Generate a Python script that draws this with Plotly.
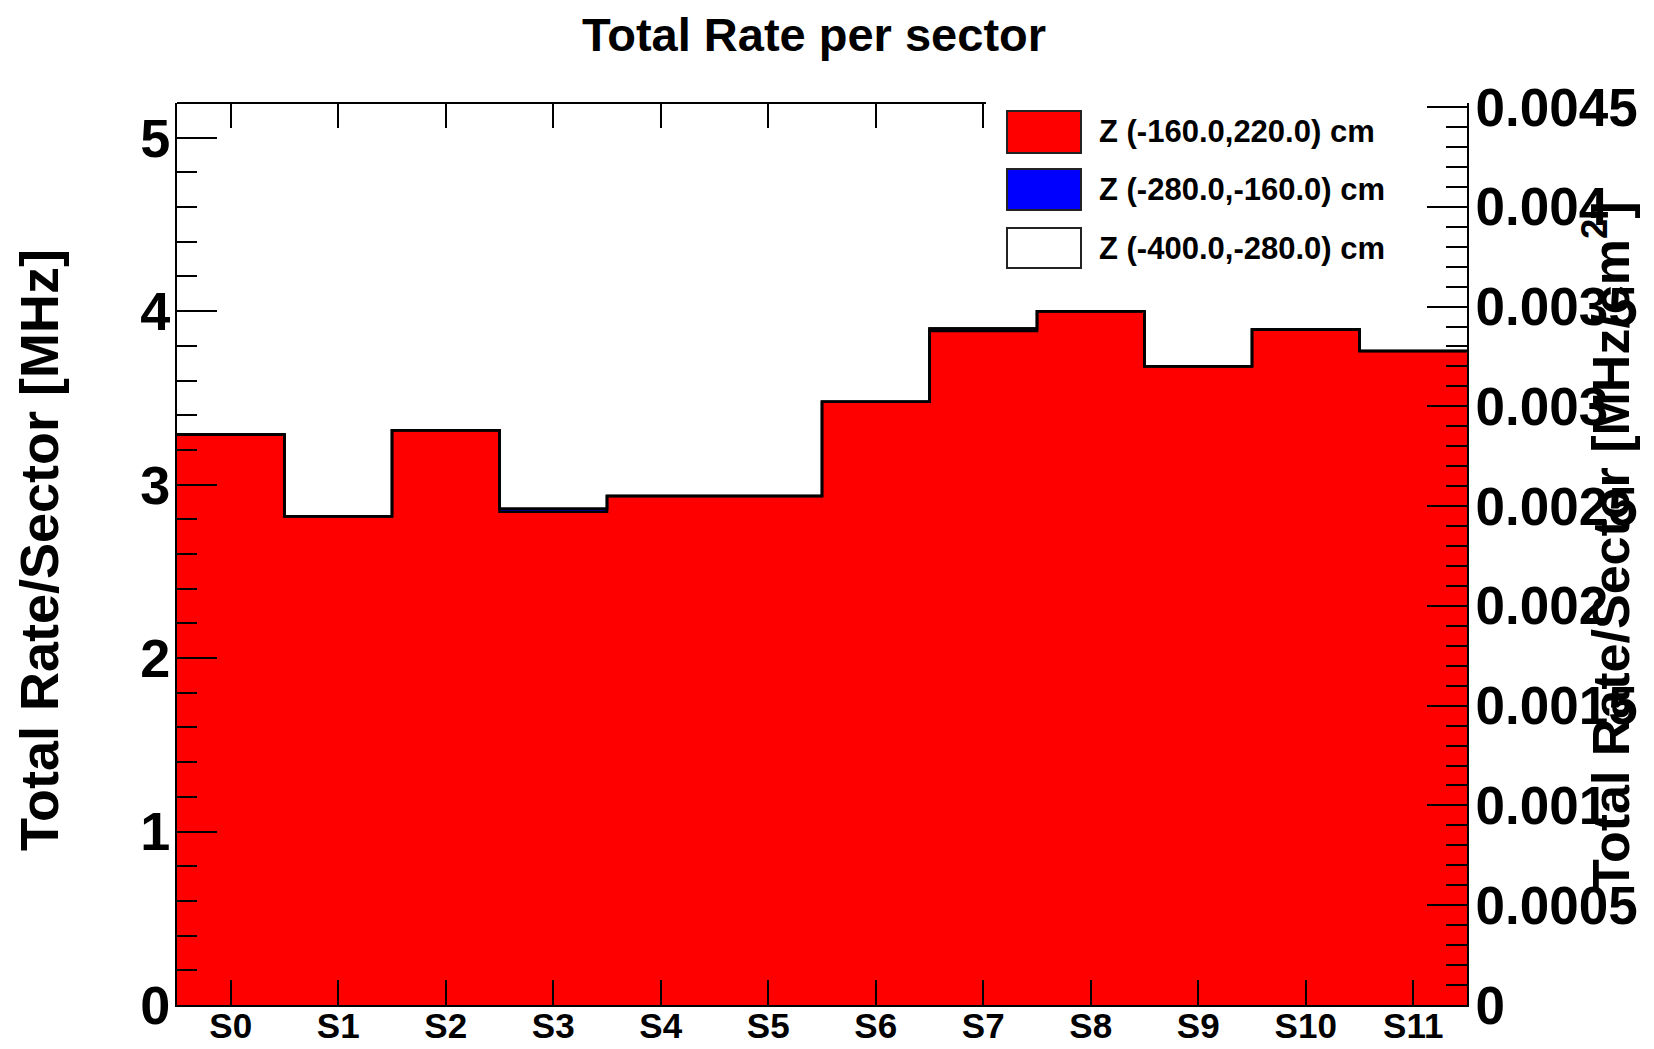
import plotly.graph_objects as go

# ---------------- data ----------------
sectors = ["S0", "S1", "S2", "S3", "S4", "S5", "S6", "S7", "S8", "S9", "S10", "S11"]
rate_z_m160_220 = [3.289, 2.818, 3.314, 2.843, 2.934, 2.934, 3.477, 3.885, 4.000, 3.683, 3.894, 3.771]
rate_z_m280_m160 = [0.0, 0.0, 0.0, 0.018, 0.0, 0.0, 0.0, 0.015, 0.0, 0.0, 0.0, 0.0]
rate_z_m400_m280 = [0.0] * 12
series_names = ["Z (-160.0,220.0) cm", "Z (-280.0,-160.0) cm", "Z (-400.0,-280.0) cm"]
series_colors = ["#ff0000", "#0000ff", "#ffffff"]
left_ticks = [0, 1, 2, 3, 4, 5]
right_tickvals = [0, 0.0005, 0.001, 0.0015, 0.002, 0.0025, 0.003, 0.0035, 0.004, 0.0045]
right_ticktext = ["0", "0.0005", "0.001", "0.0015", "0.002", "0.0025", "0.003", "0.0035", "0.004", "0.0045"]

# ---------------- geometry (page pixels; page body has an 8px margin) ----------------
OFF = 8
W, H = 1654 - OFF, 1049 - OFF
L, R, T, B = 177 - OFF, 1467 - OFF, 103 - OFF, 1005 - OFF
PW, PH = R - L, B - T


def px(x):
    return (x - OFF - L) / PW


def py(y):
    return (B - (y - OFF)) / PH


FONT = "Liberation Sans, Arial, sans-serif"
n = len(sectors)
centers = list(range(n))
edges = [i - 0.5 for i in range(n + 1)]

fig = go.Figure()

series = [rate_z_m160_220, rate_z_m280_m160, rate_z_m400_m280]
for vals, name, col in zip(series, series_names, series_colors):
    fig.add_trace(go.Bar(x=centers, y=vals, width=1.0, name=name,
                         marker=dict(color=col, line=dict(width=0)),
                         showlegend=False))

# step outlines of the cumulative stack (ROOT-style histogram outline)
cum = [0.0] * n
for vals in series:
    cum = [c + v for c, v in zip(cum, vals)]
    fig.add_trace(go.Scatter(x=edges, y=cum + [cum[-1]], mode="lines",
                             line=dict(color="black", width=2.5, shape="hv"),
                             xaxis="x2", showlegend=False, hoverinfo="skip"))

# dummy trace to activate the right axis
fig.add_trace(go.Scatter(x=[None], y=[None], yaxis="y2", showlegend=False, hoverinfo="skip"))

fig.update_layout(
    width=W, height=H,
    margin=dict(l=L, r=W - R, t=T, b=H - B, autoexpand=False),
    paper_bgcolor="white", plot_bgcolor="white",
    barmode="stack", bargap=0,
    showlegend=False,
    xaxis=dict(range=[-0.5, n - 0.5], tickvals=centers, ticktext=sectors,
               ticks="inside", ticklen=25, tickwidth=1.5, tickcolor="black",
               showline=True, linecolor="black", linewidth=2,
               showgrid=False, zeroline=False, automargin=False,
               tickfont=dict(family=FONT, size=35, color="black", weight="bold"),
               ticklabelstandoff=-11),
    xaxis2=dict(range=[-0.5, n - 0.5], overlaying="x", side="top",
                tickvals=centers[:8], ticks="inside", ticklen=25, tickwidth=1.5,
                tickcolor="black", showticklabels=False, showline=False,
                showgrid=False, zeroline=False, automargin=False),
    yaxis=dict(range=[0, 5.2], tickvals=left_ticks, ticks="inside", ticklen=40,
               tickwidth=1.5, tickcolor="black",
               minor=dict(dtick=0.2, ticks="inside", ticklen=20, tickwidth=1.5,
                          tickcolor="black", showgrid=False),
               showline=True, linecolor="black", linewidth=2,
               showgrid=False, zeroline=False, automargin=False,
               tickfont=dict(family=FONT, size=54, color="black", weight="bold"),
               ticklabelstandoff=-6),
    yaxis2=dict(range=[0, 0.00452], overlaying="y", side="right",
                tickvals=right_tickvals, ticktext=right_ticktext,
                ticks="inside", ticklen=40, tickwidth=1.5, tickcolor="black",
                minor=dict(dtick=0.0001, ticks="inside", ticklen=21, tickwidth=1.5,
                           tickcolor="black", showgrid=False),
                showline=True, linecolor="black", linewidth=2,
                showgrid=False, zeroline=False, automargin=False,
                tickfont=dict(family=FONT, size=53, color="black", weight="bold"),
                ticklabelstandoff=-4),
)

# top frame line (hidden under the legend box to the right)
fig.add_shape(type="line", xref="paper", yref="paper", x0=0, x1=px(986), y0=1, y1=1,
              line=dict(color="black", width=2))

# title and axis titles
fig.add_annotation(x=px(814), y=py(34), xref="paper", yref="paper",
                   xanchor="center", yanchor="middle",
                   text="<b>Total Rate per sector</b>", showarrow=False,
                   font=dict(family=FONT, size=47, color="black"))
fig.add_annotation(x=px(39), y=py(550), xref="paper", yref="paper", textangle=-90,
                   xanchor="center", yanchor="middle",
                   text="<b>Total Rate/Sector [MHz]</b>", showarrow=False,
                   font=dict(family=FONT, size=54, color="black"))
fig.add_annotation(x=px(1607), y=py(546), xref="paper", yref="paper", textangle=-90,
                   xanchor="center", yanchor="middle",
                   text="<b>Total Rate/Sector [MHz/cm<sup>2</sup>]</b>", showarrow=False,
                   font=dict(family=FONT, size=52, color="black"))

# legend
rows = [(111, 153, 132), (169, 210, 189), (228, 268, 248)]
for (y0, y1, yc), name, col in zip(rows, series_names, series_colors):
    fig.add_shape(type="rect", xref="paper", yref="paper",
                  x0=px(1007), x1=px(1081), y0=py(y1), y1=py(y0),
                  fillcolor=col, line=dict(color="#222222", width=2))
    fig.add_annotation(x=px(1097), y=py(yc), xref="paper", yref="paper",
                       xanchor="left", yanchor="middle",
                       text="<b>" + name + "</b>", showarrow=False,
                       font=dict(family=FONT, size=31, color="black"))

fig.write_html("out.html")
